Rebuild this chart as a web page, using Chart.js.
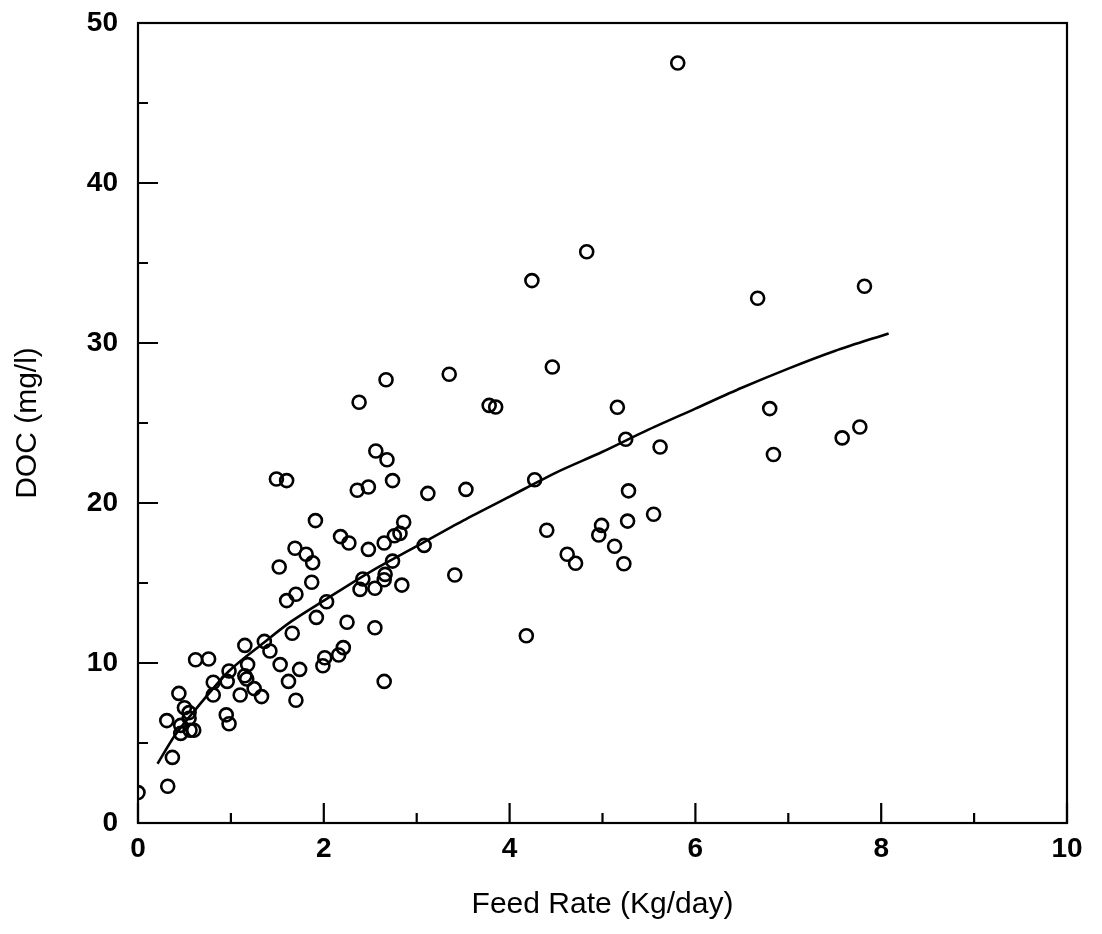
<!DOCTYPE html>
<html>
<head>
<meta charset="utf-8">
<title>DOC vs Feed Rate</title>
<script src="https://cdn.jsdelivr.net/npm/chart.js@4.4.1/dist/chart.umd.min.js"></script>
<style>
  html, body { margin: 0; padding: 0; background: #fff; }
  #wrap { width: 1102px; height: 934px; }
</style>
</head>
<body>
<div id="wrap"><canvas id="chart" width="1102" height="934"></canvas></div>
<script>
// observed points (feed rate in Kg/day, DOC in mg/l)
const feedRate = [
  0.00, 0.32, 0.37, 0.31, 0.44, 0.46, 0.46, 0.50, 0.55, 0.55, 0.56, 0.60,
  0.62, 0.76, 0.81, 0.81, 0.95, 0.98, 0.96, 0.98, 1.10, 1.15, 1.15, 1.17,
  1.18, 1.25, 1.33, 1.36, 1.42, 1.53, 1.62, 1.70, 1.74, 1.66, 1.92, 1.87,
  1.60, 1.70, 1.52, 1.69, 1.81, 1.88, 2.03, 2.01, 1.99, 2.56, 2.68, 1.49,
  1.60, 2.36, 2.48, 2.74, 3.12, 1.91, 2.18, 2.27, 2.86, 2.82, 2.76, 2.65,
  2.48, 3.08, 2.74, 2.66, 2.65, 2.55, 2.39, 2.42, 2.84, 2.25, 2.55, 2.21,
  2.16, 2.65, 2.67, 3.35, 2.38, 3.78, 3.85, 3.53, 3.41, 4.83, 4.24, 4.46,
  5.16, 5.25, 5.62, 4.27, 5.28, 4.40, 4.99, 4.96, 5.27, 5.55, 5.13, 4.62,
  4.71, 5.23, 4.18, 5.81, 6.67, 7.82, 6.80, 6.84, 7.58, 7.77
];
const doc = [
  1.9, 2.3, 4.1, 6.4, 8.1, 6.1, 5.6, 7.2, 6.9, 6.55, 5.8, 5.8,
  10.2, 10.25, 8.0, 8.8, 6.76, 6.2, 8.85, 9.5, 8.0, 11.1, 9.2, 9.0,
  9.9, 8.4, 7.9, 11.35, 10.75, 9.9, 8.85, 7.67, 9.6, 11.86, 12.85, 15.05,
  13.9, 14.3, 16.0, 17.17, 16.8, 16.27, 13.83, 10.33, 9.83, 23.25, 22.7, 21.5,
  21.4, 20.8, 21.0, 21.4, 20.6, 18.9, 17.9, 17.5, 18.8, 18.1, 17.95, 17.5,
  17.1, 17.35, 16.37, 15.54, 15.2, 14.67, 14.6, 15.25, 14.87, 12.55, 12.2, 10.96,
  10.5, 8.85, 27.7, 28.05, 26.3, 26.1, 26.0, 20.85, 15.5, 35.7, 33.9, 28.5,
  25.98, 23.98, 23.5, 21.45, 20.76, 18.3, 18.6, 18.0, 18.87, 19.3, 17.3, 16.8,
  16.23, 16.2, 11.7, 47.5, 32.8, 33.55, 25.9, 23.03, 24.07, 24.75
];

// fitted curve
const fitX = [0.21, 0.4, 0.62, 0.98, 1.36, 1.65, 2.0, 2.5, 3.0, 3.5, 4.0, 4.5, 5.0, 5.5, 6.0, 6.5, 7.0, 7.5, 8.08];
const fitY = [3.7, 5.5, 7.1, 9.5, 11.3, 12.6, 13.9, 15.7, 17.3, 18.9, 20.4, 21.9, 23.2, 24.6, 25.9, 27.2, 28.4, 29.5, 30.6];

const xTicksMajor = [0, 2, 4, 6, 8, 10];
const yTicksMajor = [0, 10, 20, 30, 40, 50];

const tickFont = { family: "'Liberation Sans', Arial, sans-serif", size: 28, weight: 'bold' };
const titleFont = { family: "'Liberation Sans', Arial, sans-serif", size: 30 };

// frame + inward tick marks (majors long, minors short)
const frameTicks = {
  id: 'frameTicks',
  afterDraw(chart) {
    const { ctx, chartArea: a, scales: { x, y } } = chart;
    ctx.save();
    ctx.strokeStyle = '#000';
    ctx.lineWidth = 2.2;
    ctx.strokeRect(a.left, a.top, a.right - a.left, a.bottom - a.top);
    ctx.beginPath();
    x.ticks.forEach(t => {
      const px = x.getPixelForValue(t.value);
      const len = xTicksMajor.includes(t.value) ? 20 : 10;
      ctx.moveTo(px, a.bottom);
      ctx.lineTo(px, a.bottom - len);
    });
    y.ticks.forEach(t => {
      const py = y.getPixelForValue(t.value);
      const len = yTicksMajor.includes(t.value) ? 20 : 10;
      ctx.moveTo(a.left, py);
      ctx.lineTo(a.left + len, py);
    });
    ctx.stroke();
    ctx.restore();
  }
};

new Chart(document.getElementById('chart'), {
  type: 'scatter',
  data: {
    datasets: [
      {
        label: 'DOC',
        data: feedRate.map((v, i) => ({ x: v, y: doc[i] })),
        pointStyle: 'circle',
        pointRadius: 6.5,
        pointBorderWidth: 2.6,
        borderColor: '#000',
        backgroundColor: 'rgba(0,0,0,0)'
      },
      {
        label: 'fit',
        data: fitX.map((v, i) => ({ x: v, y: fitY[i] })),
        showLine: true,
        pointRadius: 0,
        borderColor: '#000',
        borderWidth: 2.6,
        tension: 0.3
      }
    ]
  },
  options: {
    responsive: false,
    animation: false,
    layout: { padding: { left: 0, right: 35, top: 23, bottom: 0 } },
    plugins: {
      legend: { display: false },
      tooltip: { enabled: false }
    },
    scales: {
      x: {
        type: 'linear',
        min: 0,
        max: 10,
        grid: { display: false, drawTicks: false },
        border: { display: false },
        ticks: {
          stepSize: 1,
          color: '#000',
          font: tickFont,
          padding: 9,
          maxRotation: 0,
          callback: v => (xTicksMajor.includes(v) ? String(v) : '')
        },
        title: {
          display: true,
          text: 'Feed Rate (Kg/day)',
          color: '#000',
          font: titleFont,
          padding: { top: 0, bottom: 11 }
        },
        afterFit: s => {
          s.height = 111;
          s.paddingLeft = 0;
          s.paddingRight = 0;
        }
      },
      y: {
        type: 'linear',
        min: 0,
        max: 50,
        grid: { display: false, drawTicks: false },
        border: { display: false },
        ticks: {
          stepSize: 5,
          color: '#000',
          font: tickFont,
          padding: 20,
          callback: v => (yTicksMajor.includes(v) ? String(v) : '')
        },
        title: {
          display: true,
          text: 'DOC (mg/l)',
          color: '#000',
          font: titleFont,
          padding: { top: 10, bottom: 0 }
        },
        afterFit: s => {
          s.width = 138;
          s.paddingTop = 0;
          s.paddingBottom = 0;
        }
      }
    }
  },
  plugins: [frameTicks]
});
</script>
</body>
</html>
